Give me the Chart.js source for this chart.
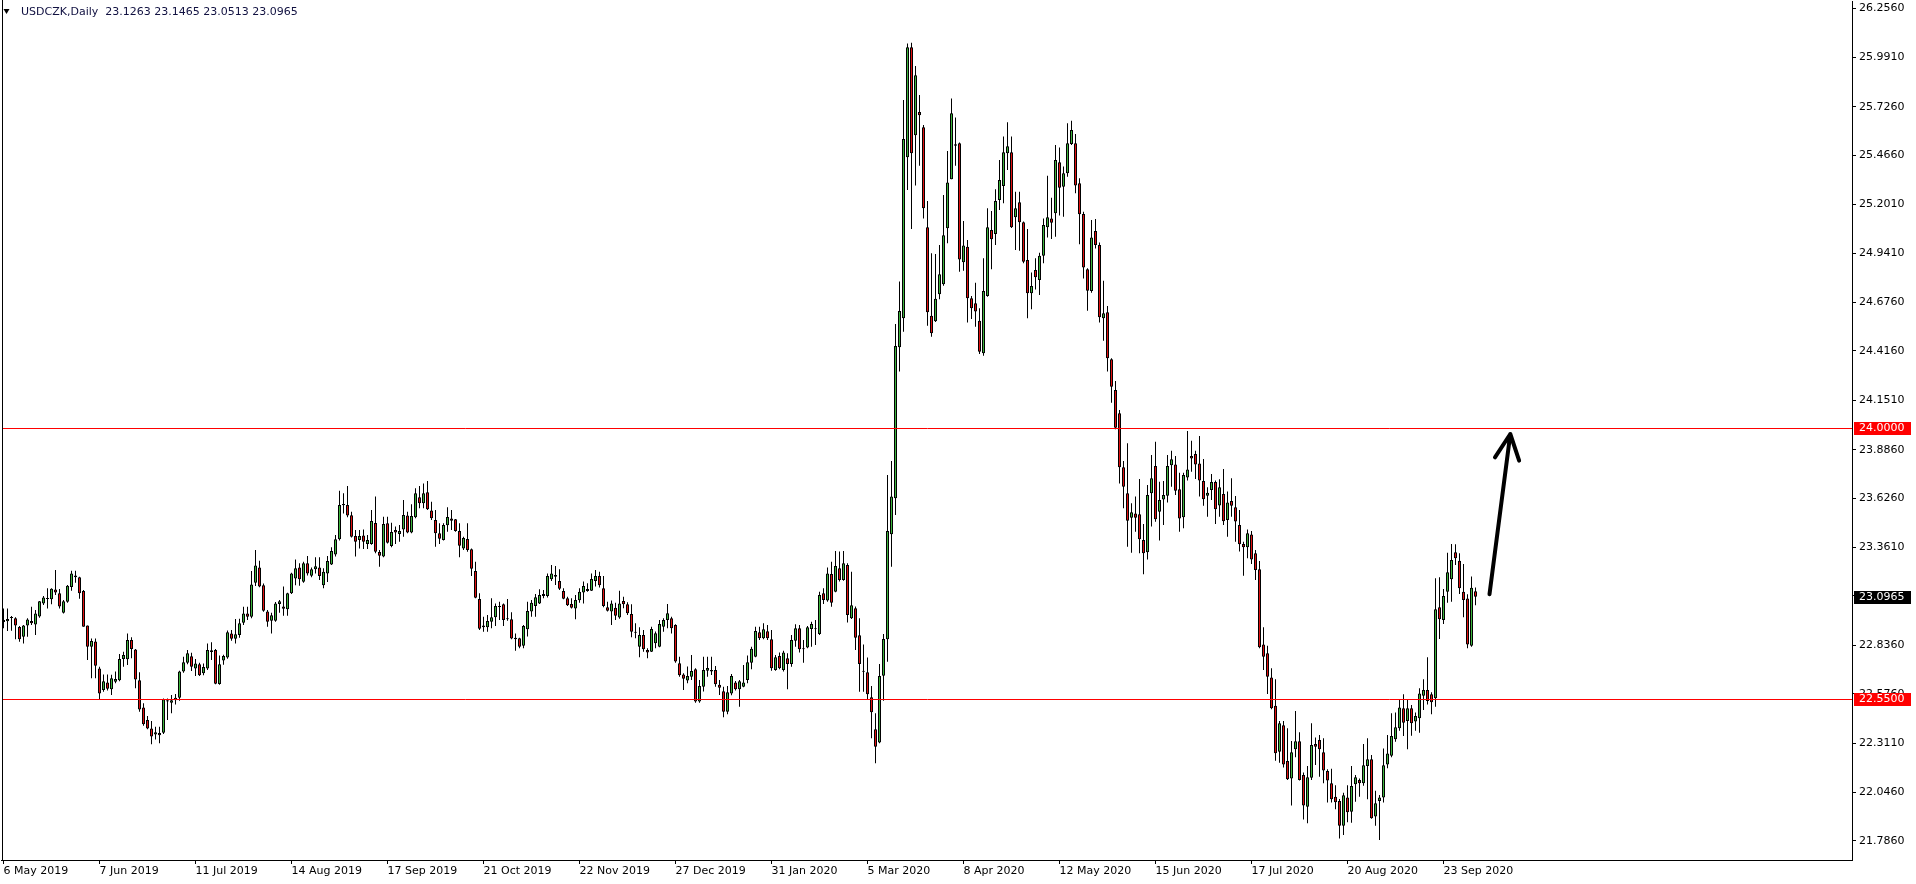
<!DOCTYPE html>
<html lang="en">
<head>
<meta charset="UTF-8">
<title>USDCZK Daily</title>
<script src="https://cdn.jsdelivr.net/npm/chart.js"></script>
<style>
  html, body { margin: 0; padding: 0; background: #fff; }
  #wrap { width: 1916px; height: 884px; position: relative; }
</style>
</head>
<body>
<div id="wrap"><canvas id="chart"></canvas></div>
<script>
const symbol = 'USDCZK,Daily';

// daily candles, bar 0 = 6 May 2019
const opens = [
  22.972,22.965,22.982,22.981,22.934,22.882,22.943,22.966,22.948,22.991,23.061,23.085,23.083,23.136,23.115,23.011,23.070,23.149,23.211,23.201,
  23.127,22.943,22.829,22.857,22.712,22.596,22.637,22.600,22.641,22.648,22.762,22.761,22.864,22.814,22.648,22.503,22.435,22.390,22.357,22.365,
  22.367,22.534,22.528,22.541,22.555,22.696,22.743,22.777,22.711,22.734,22.686,22.711,22.809,22.811,22.628,22.754,22.770,22.900,22.871,22.891,
  22.957,23.007,22.990,23.172,23.254,23.158,23.018,22.968,22.968,23.058,23.045,23.029,23.115,23.195,23.254,23.177,23.276,23.210,23.244,23.254,
  23.158,23.222,23.270,23.324,23.405,23.588,23.589,23.534,23.422,23.401,23.426,23.380,23.380,23.492,23.337,23.312,23.491,23.369,23.455,23.433,
  23.458,23.532,23.441,23.523,23.630,23.598,23.657,23.560,23.509,23.437,23.401,23.480,23.517,23.512,23.449,23.355,23.406,23.351,23.235,23.084,
  22.943,22.933,22.963,22.986,23.041,23.056,22.981,22.976,22.876,22.874,22.834,22.922,23.017,23.047,23.061,23.101,23.101,23.190,23.213,23.181,
  23.128,23.088,23.058,23.033,23.078,23.119,23.128,23.129,23.181,23.208,23.142,23.040,23.017,23.038,22.985,23.074,23.056,23.004,22.906,22.829,
  22.892,22.811,22.802,22.847,22.829,22.936,22.972,22.981,22.945,22.740,22.679,22.647,22.668,22.707,22.534,22.614,22.700,22.704,22.704,22.625,
  22.589,22.480,22.578,22.637,22.600,22.614,22.650,22.743,22.775,22.906,22.874,22.911,22.868,22.704,22.779,22.704,22.766,22.736,22.861,22.927,
  22.820,22.824,22.924,22.924,22.897,23.115,23.076,23.219,23.124,23.249,23.186,23.267,22.981,23.035,22.890,22.695,22.691,22.557,22.385,22.314,
  22.673,22.868,23.432,23.625,24.435,24.591,25.455,26.045,25.573,25.698,25.616,25.079,24.605,24.575,24.720,24.773,25.074,25.337,25.525,25.530,
  24.891,24.975,24.698,24.671,24.578,24.403,24.711,25.065,25.043,25.226,25.301,25.476,25.482,25.133,25.213,25.106,24.904,24.725,24.850,24.796,
  24.927,25.079,25.127,25.154,25.428,25.297,25.369,25.526,25.530,25.315,25.151,24.854,24.737,25.059,24.984,24.591,24.623,24.371,24.206,24.081,
  23.791,23.652,23.521,23.544,23.539,23.401,23.335,23.652,23.798,23.553,23.619,23.639,23.802,23.807,23.673,23.523,23.737,23.852,23.863,23.812,
  23.718,23.639,23.670,23.713,23.587,23.648,23.509,23.611,23.577,23.482,23.380,23.362,23.431,23.330,23.244,22.841,22.793,22.664,22.512,22.265,
  22.407,22.215,22.122,22.278,22.321,22.140,21.970,22.126,22.307,22.328,22.262,22.162,22.096,22.024,22.001,21.868,22.019,21.943,22.090,22.113,
  22.096,22.189,22.224,21.917,22.001,22.019,22.197,22.244,22.332,22.391,22.498,22.430,22.498,22.427,22.444,22.566,22.596,22.573,22.552,23.040,
  22.972,23.124,23.190,23.335,23.290,23.124,23.087,22.834,23.1263
];
const highs = [
  23.034,23.034,22.993,22.986,22.940,22.945,22.981,23.043,23.025,23.074,23.101,23.142,23.142,23.240,23.138,23.079,23.160,23.236,23.236,23.204,
  23.133,22.943,22.873,22.872,22.721,22.680,22.680,22.678,22.695,22.789,22.802,22.900,22.879,22.816,22.691,22.525,22.457,22.430,22.399,22.399,
  22.550,22.551,22.569,22.575,22.700,22.775,22.811,22.796,22.762,22.743,22.739,22.846,22.852,22.816,22.782,22.786,22.916,22.918,22.977,22.979,
  23.043,23.043,23.235,23.348,23.290,23.168,23.025,23.011,23.068,23.079,23.151,23.118,23.226,23.297,23.276,23.285,23.315,23.254,23.308,23.308,
  23.249,23.315,23.362,23.428,23.666,23.652,23.691,23.553,23.455,23.455,23.458,23.428,23.562,23.634,23.347,23.526,23.526,23.494,23.473,23.482,
  23.616,23.553,23.593,23.679,23.691,23.705,23.718,23.607,23.562,23.491,23.491,23.577,23.562,23.514,23.491,23.419,23.491,23.356,23.285,23.115,
  22.990,22.999,23.088,23.061,23.070,23.061,23.085,23.013,22.900,22.877,22.945,23.070,23.079,23.112,23.137,23.133,23.222,23.267,23.262,23.244,
  23.142,23.097,23.088,23.106,23.142,23.178,23.169,23.222,23.240,23.231,23.208,23.070,23.076,23.065,23.129,23.097,23.067,23.056,22.954,22.933,
  22.918,22.820,22.936,22.910,22.972,22.981,23.058,22.990,22.949,22.775,22.686,22.722,22.784,22.713,22.650,22.775,22.775,22.775,22.725,22.650,
  22.614,22.618,22.682,22.645,22.650,22.730,22.781,22.829,22.936,22.936,22.954,22.945,22.918,22.784,22.797,22.807,22.793,22.892,22.949,22.945,
  22.865,22.940,22.963,22.972,23.124,23.142,23.254,23.285,23.342,23.339,23.342,23.276,23.231,23.044,22.981,22.841,22.770,22.618,22.471,22.736,
  22.897,23.750,23.825,24.560,24.788,25.762,26.066,26.070,25.945,25.789,25.628,25.220,24.940,24.936,24.984,25.253,25.489,25.771,25.669,25.534,
  25.113,25.011,24.711,24.782,24.645,24.913,25.181,25.167,25.283,25.440,25.566,25.643,25.566,25.270,25.270,25.110,25.070,24.836,24.913,24.943,
  25.127,25.356,25.238,25.521,25.507,25.405,25.637,25.651,25.580,25.342,25.163,24.859,25.118,25.124,24.997,24.793,24.657,24.376,24.254,24.099,
  23.825,23.920,23.598,23.634,23.729,23.487,23.696,23.857,23.929,23.714,23.718,23.857,23.880,23.852,23.762,23.762,23.986,23.934,23.880,23.959,
  23.836,23.684,23.755,23.720,23.727,23.782,23.661,23.732,23.637,23.562,23.392,23.458,23.449,23.348,23.289,22.933,22.834,22.713,22.654,22.430,
  22.430,22.391,22.323,22.484,22.369,22.153,22.189,22.418,22.342,22.355,22.337,22.171,22.173,22.085,22.011,22.045,22.085,22.189,22.140,22.122,
  22.307,22.337,22.248,22.056,22.033,22.283,22.355,22.471,22.475,22.546,22.573,22.543,22.516,22.475,22.605,22.654,22.772,22.584,23.196,23.201,
  23.138,23.333,23.380,23.378,23.330,23.273,23.110,23.205,23.1465
];
const lows = [
  22.927,22.913,22.914,22.868,22.855,22.846,22.882,22.945,22.891,22.984,23.052,23.034,23.056,23.106,23.034,23.007,23.065,23.129,23.172,23.086,
  22.936,22.757,22.659,22.659,22.546,22.587,22.593,22.569,22.632,22.643,22.721,22.730,22.766,22.605,22.480,22.405,22.385,22.305,22.331,22.310,
  22.360,22.435,22.471,22.519,22.539,22.689,22.734,22.698,22.671,22.671,22.675,22.703,22.757,22.627,22.625,22.732,22.764,22.861,22.846,22.877,
  22.945,22.972,22.981,23.154,23.147,23.016,22.936,22.900,22.963,23.011,22.995,22.995,23.111,23.159,23.156,23.172,23.211,23.201,23.222,23.186,
  23.142,23.176,23.267,23.312,23.398,23.544,23.523,23.414,23.312,23.356,23.353,23.353,23.376,23.330,23.258,23.308,23.383,23.362,23.380,23.392,
  23.419,23.437,23.437,23.518,23.571,23.571,23.562,23.509,23.365,23.380,23.398,23.446,23.455,23.446,23.308,23.347,23.338,23.208,23.088,22.918,
  22.909,22.909,22.927,22.940,22.972,22.940,22.968,22.868,22.807,22.820,22.820,22.883,22.990,22.990,23.058,23.088,23.092,23.181,23.160,23.133,
  23.083,23.047,23.034,22.976,23.065,23.061,23.124,23.128,23.151,23.146,23.040,23.017,22.945,22.972,22.979,23.035,22.999,22.879,22.874,22.772,
  22.802,22.766,22.800,22.820,22.825,22.909,22.927,22.900,22.743,22.668,22.596,22.632,22.650,22.528,22.528,22.588,22.668,22.677,22.614,22.570,
  22.450,22.466,22.568,22.593,22.507,22.611,22.632,22.707,22.772,22.865,22.868,22.865,22.700,22.700,22.707,22.695,22.600,22.721,22.829,22.798,
  22.743,22.820,22.829,22.838,22.891,23.058,23.070,23.043,23.121,23.178,23.183,22.958,22.977,22.811,22.587,22.587,22.546,22.337,22.203,22.310,
  22.539,22.748,23.258,23.535,24.305,24.519,25.279,25.070,25.303,25.410,25.127,24.551,24.492,24.571,24.693,24.766,24.993,25.337,25.410,24.841,
  24.846,24.568,24.587,24.546,24.399,24.390,24.707,24.854,24.984,25.172,25.208,25.387,25.075,24.958,24.954,24.886,24.591,24.639,24.746,24.716,
  24.886,25.025,25.016,25.029,25.142,25.136,25.351,25.521,25.262,24.988,24.805,24.632,24.728,24.966,24.568,24.471,24.305,24.138,23.995,23.705,
  23.571,23.365,23.333,23.446,23.330,23.217,23.297,23.473,23.499,23.398,23.482,23.602,23.687,23.643,23.446,23.464,23.720,23.768,23.729,23.634,
  23.585,23.526,23.616,23.487,23.526,23.482,23.419,23.526,23.392,23.339,23.210,23.303,23.272,23.186,22.820,22.704,22.575,22.493,22.217,22.206,
  22.180,22.113,21.976,22.235,22.110,21.902,21.881,22.113,22.194,22.131,22.096,21.992,21.992,21.956,21.800,21.818,21.886,21.884,21.997,22.024,
  22.083,22.010,21.905,21.868,21.791,21.992,22.176,22.235,22.319,22.378,22.350,22.278,22.351,22.378,22.367,22.489,22.519,22.466,22.507,22.870,
  22.951,23.065,23.070,23.267,23.112,22.986,22.820,22.829,23.0513
];
const closes = [
  22.961,22.977,22.983,22.943,22.868,22.943,22.975,22.954,23.007,23.072,23.093,23.084,23.140,23.120,23.045,23.072,23.156,23.222,23.201,23.115,
  22.936,22.829,22.859,22.727,22.578,22.643,22.603,22.659,22.655,22.762,22.784,22.864,22.816,22.653,22.492,22.412,22.389,22.347,22.369,22.353,
  22.546,22.541,22.541,22.555,22.696,22.745,22.793,22.721,22.739,22.675,22.720,22.811,22.800,22.630,22.734,22.779,22.906,22.871,22.895,22.954,
  23.007,22.990,23.163,23.265,23.151,23.022,22.963,22.997,23.061,23.072,23.032,23.115,23.222,23.249,23.190,23.276,23.222,23.244,23.261,23.208,
  23.231,23.288,23.342,23.405,23.589,23.595,23.532,23.419,23.392,23.422,23.392,23.401,23.503,23.338,23.317,23.487,23.387,23.444,23.441,23.449,
  23.535,23.441,23.530,23.652,23.598,23.652,23.566,23.518,23.437,23.408,23.482,23.525,23.505,23.449,23.371,23.412,23.347,23.247,23.091,22.925,
  22.933,22.967,22.986,23.047,23.043,22.972,22.976,22.872,22.869,22.829,22.940,23.020,23.065,23.094,23.106,23.112,23.208,23.222,23.204,23.140,
  23.086,23.051,23.038,23.079,23.124,23.154,23.138,23.192,23.208,23.158,23.047,23.022,23.061,22.995,23.061,23.056,23.008,22.909,22.904,22.892,
  22.815,22.797,22.924,22.901,22.951,22.972,23.008,22.927,22.749,22.675,22.657,22.672,22.698,22.534,22.618,22.704,22.714,22.695,22.627,22.609,
  22.480,22.584,22.671,22.600,22.643,22.637,22.745,22.818,22.913,22.874,22.922,22.874,22.713,22.772,22.713,22.798,22.736,22.865,22.927,22.815,
  22.815,22.933,22.951,22.922,23.106,23.079,23.222,23.065,23.262,23.186,23.276,22.999,23.051,22.877,22.736,22.694,22.573,22.477,22.292,22.671,
  22.870,23.449,23.634,24.442,24.630,25.553,26.045,25.476,25.895,25.680,25.181,24.623,24.510,24.696,24.827,25.036,25.319,25.691,25.517,24.907,
  24.981,24.698,24.645,24.627,24.412,24.737,25.079,25.015,25.220,25.333,25.482,25.514,25.079,25.181,25.106,24.895,24.725,24.764,24.811,24.927,
  25.092,25.133,25.104,25.440,25.292,25.369,25.530,25.601,25.304,25.149,24.863,24.739,25.025,24.984,24.596,24.618,24.376,24.224,24.004,23.791,
  23.687,23.505,23.550,23.521,23.405,23.330,23.643,23.732,23.512,23.616,23.643,23.798,23.834,23.666,23.517,23.750,23.780,23.838,23.807,23.720,
  23.620,23.655,23.713,23.566,23.684,23.502,23.603,23.585,23.500,23.378,23.362,23.437,23.297,23.240,22.825,22.775,22.668,22.498,22.257,22.418,
  22.197,22.117,22.262,22.321,22.113,21.976,22.128,22.301,22.292,22.278,22.164,22.110,22.010,21.994,21.868,22.031,21.940,22.081,22.128,22.096,
  22.192,22.224,21.908,21.988,22.020,22.192,22.256,22.350,22.396,22.503,22.421,22.498,22.418,22.457,22.578,22.596,22.537,22.530,23.029,22.976,
  23.101,23.228,23.294,23.303,23.142,23.079,22.841,23.145,23.0965
];

// bottom axis: bar index of each date label
const xTickBars = [0, 24, 48, 72, 96, 120, 144, 168, 192, 216, 240, 264, 288, 312, 336, 360];
const xTickLabels = ['6 May 2019', '7 Jun 2019', '11 Jul 2019', '14 Aug 2019', '17 Sep 2019', '21 Oct 2019',
  '22 Nov 2019', '27 Dec 2019', '31 Jan 2020', '5 Mar 2020', '8 Apr 2020', '12 May 2020', '15 Jun 2020',
  '17 Jul 2020', '20 Aug 2020', '23 Sep 2020'];
const yTickValues = [26.2560, 25.9910, 25.7260, 25.4660, 25.2010, 24.9410, 24.6760, 24.4160, 24.1510,
  23.8860, 23.6260, 23.3610, 23.1010, 22.8360, 22.5760, 22.3110, 22.0460, 21.7860];

// horizontal levels and the hand drawn arrow (bar index, price)
const levels = [24.0000, 22.5500];
const arrowFrom = [371.5, 23.11];
const arrowTo = [376.7, 23.97];

const bullColor = '#3cb43c';
const bearColor = '#e01010';
const levelColor = '#ff0000';

Chart.defaults.font.family = '"DejaVu Sans", sans-serif';
Chart.defaults.font.size = 11;
Chart.defaults.color = '#000';

const idx = opens.map((_, i) => i);
const bodyData = idx.map(i => ({ x: i, y: [opens[i], closes[i]] }));
const wickData = idx.map(i => ({ x: i, y: [lows[i], highs[i]] }));
const bodyColors = idx.map(i => closes[i] >= opens[i] ? bullColor : bearColor);
const last = opens.length - 1;

const overlay = {
  id: 'overlay',
  afterDatasetsDraw(chart) {
    const { ctx, chartArea: a, scales: { x, y } } = chart;
    ctx.save();
    // left frame
    ctx.strokeStyle = '#000';
    ctx.lineWidth = 1;
    ctx.beginPath();
    ctx.moveTo(2.5, 0);
    ctx.lineTo(2.5, a.bottom);
    ctx.stroke();
    // levels
    ctx.strokeStyle = levelColor;
    levels.forEach(v => {
      const py = Math.round(y.getPixelForValue(v)) + 0.5;
      ctx.beginPath();
      ctx.moveTo(3, py);
      ctx.lineTo(a.right, py);
      ctx.stroke();
    });
    // arrow
    const x0 = x.getPixelForValue(arrowFrom[0]), y0 = y.getPixelForValue(arrowFrom[1]);
    const x1 = x.getPixelForValue(arrowTo[0]), y1 = y.getPixelForValue(arrowTo[1]);
    const ang = Math.atan2(y0 - y1, x0 - x1);
    ctx.strokeStyle = '#000';
    ctx.lineWidth = 4;
    ctx.lineCap = 'round';
    ctx.lineJoin = 'round';
    ctx.beginPath();
    ctx.moveTo(x0, y0);
    ctx.lineTo(x1, y1);
    [-0.45, 0.45].forEach(s => {
      ctx.moveTo(x1, y1);
      ctx.lineTo(x1 + 28 * Math.cos(ang + s), y1 + 28 * Math.sin(ang + s));
    });
    ctx.stroke();
    // title
    ctx.fillStyle = '#000';
    ctx.beginPath();
    ctx.moveTo(3.5, 9); ctx.lineTo(9.5, 9); ctx.lineTo(6.5, 14);
    ctx.closePath();
    ctx.fill();
    ctx.font = '11px "DejaVu Sans"';
    ctx.textBaseline = 'middle';
    ctx.fillStyle = '#101040';
    const ohlc = [opens[last], highs[last], lows[last], closes[last]].map(v => v.toFixed(4)).join(' ');
    ctx.fillText(symbol + '  ' + ohlc, 21, 12);
    ctx.restore();
  },
  afterDraw(chart) {
    const { ctx, chartArea: a, scales: { y } } = chart;
    const boxes = levels.map(v => [v, levelColor]).concat([[closes[last], '#000']]);
    ctx.save();
    ctx.font = '11px "DejaVu Sans"';
    ctx.textBaseline = 'middle';
    boxes.forEach(([v, bg]) => {
      const py = Math.round(y.getPixelForValue(v));
      ctx.fillStyle = bg;
      ctx.fillRect(a.right + 2, py - 6, 57, 13);
      ctx.fillStyle = '#fff';
      ctx.fillText(v.toFixed(4), a.right + 7, py + 0.5);
    });
    ctx.restore();
  }
};

new Chart(document.getElementById('chart'), {
  type: 'bar',
  data: {
    datasets: [
      {
        data: bodyData,
        backgroundColor: bodyColors,
        borderColor: '#000',
        borderWidth: 1,
        borderSkipped: false,
        barThickness: 3,
        minBarLength: 1,
        inflateAmount: 0,
        grouped: false
      },
      {
        data: wickData,
        backgroundColor: '#000',
        borderWidth: 0,
        barThickness: 1,
        inflateAmount: 0,
        grouped: false
      }
    ]
  },
  options: {
    responsive: true,
    maintainAspectRatio: false,
    animation: false,
    events: [],
    layout: { padding: { left: 1.5, top: 1, right: 0, bottom: 0 } },
    plugins: { legend: { display: false }, tooltip: { enabled: false } },
    scales: {
      x: {
        type: 'linear',
        offset: false,
        min: -0.5,
        max: 462.125,
        afterBuildTicks: s => { s.ticks = xTickBars.map(v => ({ value: v })); },
        afterFit: s => { s.height = 24; s.paddingLeft = 0; s.paddingRight = 0; },
        ticks: {
          autoSkip: false,
          maxRotation: 0,
          align: 'start',
          padding: 1,
          callback: (v, i) => xTickLabels[i]
        },
        grid: { drawOnChartArea: false, drawTicks: true, tickLength: 4, color: '#000', offset: false },
        border: { display: true, color: '#000' }
      },
      y: {
        position: 'right',
        min: 21.684,
        max: 26.2936,
        afterBuildTicks: s => { s.ticks = yTickValues.map(v => ({ value: v })); },
        afterFit: s => { s.width = 64; s.paddingTop = 0; s.paddingBottom = 0; },
        ticks: {
          autoSkip: false,
          padding: 3,
          callback: v => v.toFixed(4)
        },
        grid: { drawOnChartArea: false, drawTicks: true, tickLength: 4, color: '#000' },
        border: { display: true, color: '#000' }
      }
    }
  },
  plugins: [overlay]
});
</script>
</body>
</html>
